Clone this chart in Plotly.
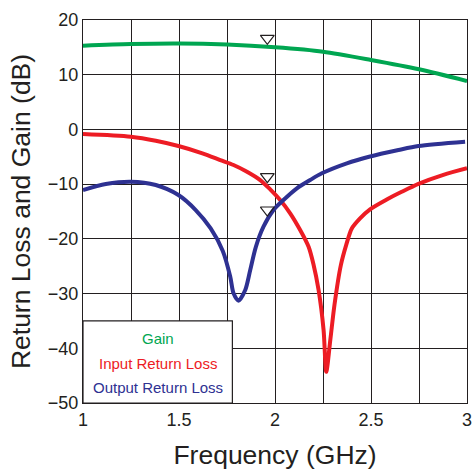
import plotly.graph_objects as go

# ---- data ----
gain_x = [1.0, 1.25, 1.5, 1.75, 2.0, 2.25, 2.5, 2.75, 3.0]
gain_y = [15.3, 15.6, 15.7, 15.5, 15.0, 14.2, 12.7, 11.0, 8.85]

irl_x = [1.0, 1.249, 1.379, 1.497, 1.622, 1.715, 1.784, 1.854, 1.923, 1.975, 2.027,
         2.079, 2.131, 2.175, 2.2, 2.227, 2.253, 2.267, 2.288, 2.31, 2.343, 2.371,
         2.4, 2.443, 2.495, 2.582, 2.66, 2.747, 2.877, 3.0]
irl_y = [-0.84, -1.33, -2.06, -3.03, -4.36, -5.59, -6.5, -7.73, -9.25, -10.95, -12.9,
         -15.33, -18.38, -21.44, -24.6, -29.35, -36.66, -44.3, -38.5, -32.0, -24.8, -21.1,
         -18.1, -16.25, -14.6, -12.8, -11.4, -9.95, -8.3, -7.1]

orl_x = [1.0, 1.119, 1.249, 1.379, 1.497, 1.587, 1.665, 1.728, 1.767, 1.784, 1.81,
         1.845, 1.871, 1.9, 1.94, 1.992, 2.044, 2.114, 2.183, 2.244, 2.374, 2.49,
         2.643, 2.747, 2.99]
orl_y = [-11.07, -9.98, -9.55, -10.16, -11.99, -14.73, -18.08, -22.2, -26.92, -29.95, -31.3,
         -29.35, -25.7, -21.5, -17.78, -14.73, -12.9, -10.76, -9.25, -8.02, -6.19, -4.99,
         -3.76, -3.03, -2.24]

marker_x = [1.96, 1.96, 1.96]
marker_y = [16.65, -8.64, -14.73]

x_tick_vals = [1.0, 1.25, 1.5, 1.75, 2.0, 2.25, 2.5, 2.75, 3.0]
x_tick_text = ["1", "", "1.5", "", "2", "", "2.5", "", "3"]
y_tick_vals = [-50, -40, -30, -20, -10, 0, 10, 20]

legend_names = ["Gain", "Input Return Loss", "Output Return Loss"]
legend_y = [-38.3, -42.7, -47.1]

GREEN = "#00a651"
RED = "#ed1c24"
BLUE = "#2e3192"
INK = "#231f20"
FONT = "Liberation Sans, Arial, Helvetica, sans-serif"

fig = go.Figure()
for xs, ys, col, name in [(gain_x, gain_y, GREEN, legend_names[0]),
                          (irl_x, irl_y, RED, legend_names[1]),
                          (orl_x, orl_y, BLUE, legend_names[2])]:
    fig.add_trace(go.Scatter(x=xs, y=ys, mode="lines", name=name,
                             line=dict(color=col, width=4, shape="spline", smoothing=0.8),
                             showlegend=False, hoverinfo="skip"))

fig.add_trace(go.Scatter(x=marker_x, y=marker_y, mode="markers", showlegend=False,
                         hoverinfo="skip",
                         marker=dict(symbol="triangle-down-open", size=12,
                                     color=INK, line=dict(color=INK, width=1.2))))

# legend box
fig.add_shape(type="rect", xref="x", yref="y", x0=1.0, x1=1.778, y0=-50, y1=-35,
              fillcolor="white", line=dict(color=INK, width=1.2), layer="above")
for name, yy, col in zip(legend_names, legend_y, [GREEN, RED, BLUE]):
    fig.add_annotation(x=1.389, y=yy, xref="x", yref="y", text=name, showarrow=False,
                       font=dict(family=FONT, size=15, color=col), xanchor="center",
                       yanchor="middle")

axis_common = dict(showline=True, linecolor=INK, linewidth=1.2, mirror=True,
                   showgrid=True, gridcolor=INK, gridwidth=1.2, zeroline=False,
                   ticks="", automargin=False,
                   tickfont=dict(family=FONT, size=18, color=INK))

fig.update_xaxes(range=[1, 3], tickvals=x_tick_vals, ticktext=x_tick_text,
                 title=dict(text="Frequency (GHz)", font=dict(family=FONT, size=26.5, color=INK),
                            standoff=16),
                 **axis_common)
fig.update_yaxes(range=[-50, 20], tickvals=y_tick_vals,
                 title=dict(text="Return Loss and Gain (dB)", font=dict(family=FONT, size=26.5, color=INK),
                            standoff=9),
                 **axis_common)

fig.update_layout(width=473, height=470, margin=dict(l=83, r=6, t=20, b=67),
                  paper_bgcolor="white", plot_bgcolor="white",
                  font=dict(family=FONT, color=INK))

fig.write_html("out.html")
